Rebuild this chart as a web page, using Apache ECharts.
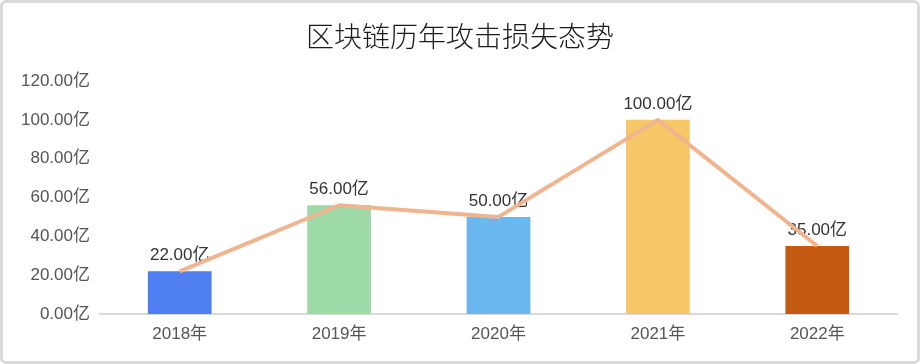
<!DOCTYPE html>
<html><head><meta charset="utf-8">
<script src="https://cdn.jsdelivr.net/npm/echarts@6/dist/echarts.min.js"></script>
<style>
html,body{margin:0;padding:0;background:#fff;}
#c{width:920px;height:364px;box-sizing:border-box;border:3px solid #d9d9d9;border-radius:6px;background:#fff;}
</style></head>
<body><div id="c"></div>
<script>
var title = '区块链历年攻击损失态势';
var categories = ['2018年','2019年','2020年','2021年','2022年'];
var losses = [22, 56, 50, 100, 35];
var barColors = ['#4F7EF0','#9ED9A8','#6BB7F0','#F5C766','#C55B12'];
var lineColor = '#F0B48E';
var yTicks = {min:0, max:120, interval:20};

var FONT = '"Liberation Sans", "Noto Sans CJK SC", sans-serif';
var chart = echarts.init(document.getElementById('c'), null, {renderer:'canvas'});
var fmt = function(v){ return Number(v).toFixed(2) + '亿'; };
chart.setOption({
  animation:false,
  title:{text:title, left:'center', top:14,
    textStyle:{fontFamily:'"Noto Sans CJK SC"', fontWeight:300, fontSize:28, color:'#1a1a1a'}},
  grid:{left:97, right:20, top:78, bottom:47},
  xAxis:{type:'category', data:categories,
    axisLine:{lineStyle:{color:'#d9d9d9', width:2}},
    axisTick:{show:false},
    axisLabel:{fontSize:17, color:'#555', margin:12, fontFamily:FONT}},
  yAxis:{type:'value', min:yTicks.min, max:yTicks.max, interval:yTicks.interval,
    splitLine:{show:false}, axisLine:{show:false}, axisTick:{show:false},
    axisLabel:{fontSize:17, color:'#555', margin:10, formatter:fmt, fontFamily:FONT}},
  series:[
    {type:'bar', data:losses.map(function(v,i){return {value:v, itemStyle:{color:barColors[i]}};}),
      barWidth:'40%',
      label:{show:true, position:'top', distance:7, fontSize:17, color:'#333', formatter:function(p){return fmt(p.value);}, fontFamily:FONT}},
    {type:'line', data:losses, symbol:'none', z:5,
      lineStyle:{color:lineColor, width:4}}
  ]
});
</script></body></html>
